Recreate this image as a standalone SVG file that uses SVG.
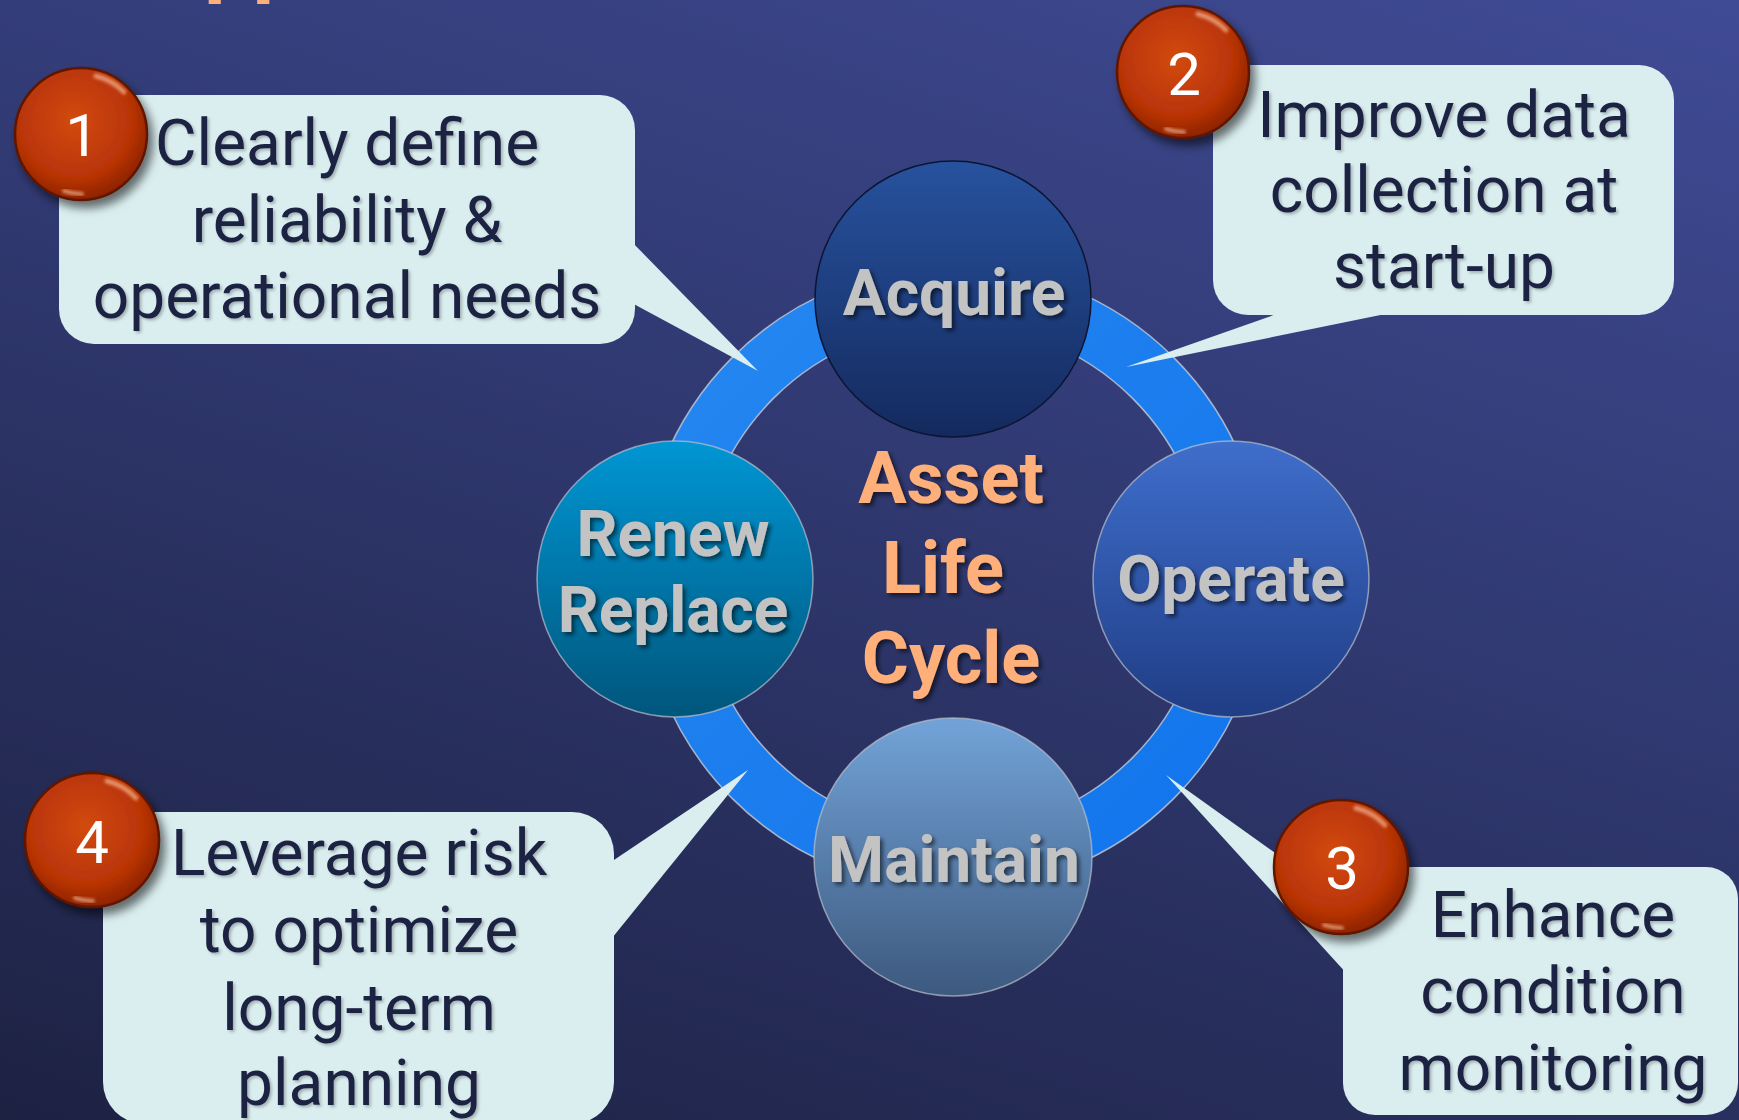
<svg xmlns="http://www.w3.org/2000/svg" width="1739" height="1120" viewBox="0 0 1739 1120">
  <defs>
    <linearGradient id="bg" gradientUnits="userSpaceOnUse" x1="1739" y1="0" x2="1242" y2="1523">
      <stop offset="0" stop-color="#3f4b95"/>
      <stop offset="1" stop-color="#1d2243"/>
    </linearGradient>
    <linearGradient id="ringGrad" gradientUnits="userSpaceOnUse" x1="670" y1="300" x2="1240" y2="860">
      <stop offset="0" stop-color="#2587f0"/>
      <stop offset="1" stop-color="#1274ec"/>
    </linearGradient>
    <linearGradient id="gAcquire" x1="0" y1="0" x2="0" y2="1">
      <stop offset="0" stop-color="#27529e"/>
      <stop offset="1" stop-color="#142a5e"/>
    </linearGradient>
    <linearGradient id="gOperate" x1="0" y1="0" x2="0" y2="1">
      <stop offset="0" stop-color="#3f6ecb"/>
      <stop offset="1" stop-color="#203d85"/>
    </linearGradient>
    <linearGradient id="gMaintain" x1="0" y1="0" x2="0" y2="1">
      <stop offset="0" stop-color="#72a3d8"/>
      <stop offset="1" stop-color="#3d597e"/>
    </linearGradient>
    <linearGradient id="gRenew" x1="0" y1="0" x2="0" y2="1">
      <stop offset="0" stop-color="#0096d4"/>
      <stop offset="1" stop-color="#00567c"/>
    </linearGradient>
    <radialGradient id="gBadge" cx="0.45" cy="0.4" r="0.62">
      <stop offset="0" stop-color="#d24a10"/>
      <stop offset="0.7" stop-color="#b93406"/>
      <stop offset="1" stop-color="#8a2102"/>
    </radialGradient>
    <filter id="fCallText" x="-10%" y="-30%" width="120%" height="160%">
      <feDropShadow dx="2" dy="2" stdDeviation="1.5" flood-color="#000" flood-opacity="0.25"/>
    </filter>
    <filter id="fNodeText" x="-10%" y="-30%" width="120%" height="160%">
      <feDropShadow dx="3" dy="3" stdDeviation="2" flood-color="#000" flood-opacity="0.55"/>
    </filter>
    <filter id="fBadge" x="-30%" y="-30%" width="160%" height="160%">
      <feDropShadow dx="5" dy="7" stdDeviation="5" flood-color="#000" flood-opacity="0.55"/>
    </filter>
    <filter id="fSoft" x="-50%" y="-50%" width="200%" height="200%">
      <feGaussianBlur stdDeviation="1.5"/>
    </filter>
    <style>
      .call { fill: #daeef0; }
      .ctext { font-family: Roboto, "Liberation Sans", sans-serif; font-size: 64px; fill: #1c2142; text-anchor: middle; filter: url(#fCallText); }
      .ntext { font-family: Roboto, "Liberation Sans", sans-serif; font-size: 64px; font-weight: bold; fill: #c3c3c3; text-anchor: middle; filter: url(#fNodeText); }
      .otext { font-family: Roboto, "Liberation Sans", sans-serif; font-size: 72px; font-weight: bold; fill: #ffb07a; text-anchor: middle; filter: url(#fNodeText); }
      .btext { font-family: Roboto, "Liberation Sans", sans-serif; font-size: 60px; fill: #ffffff; text-anchor: middle; }
      .badge { fill: url(#gBadge); stroke: #5e1606; stroke-width: 2.5; }
      .hl { fill: none; stroke: #ffc9a8; stroke-opacity: 0.6; stroke-linecap: round; filter: url(#fSoft); }
      .node { stroke: #b9c0cc; stroke-opacity: 0.7; stroke-width: 1.5; }
    </style>
  </defs>

  <rect x="0" y="0" width="1739" height="1120" fill="url(#bg)"/>

  <text x="204" y="-13" font-family="Roboto, 'Liberation Sans', sans-serif" font-size="86" font-weight="bold" fill="#ffb07a">pp</text>

  <g id="connectors">
    <circle cx="953" cy="578" r="283" fill="none" stroke="url(#ringGrad)" stroke-width="58"/>
    <circle cx="953" cy="578" r="312" fill="none" stroke="#c4ccd8" stroke-width="1.5" stroke-opacity="0.8"/>
    <circle cx="953" cy="578" r="254" fill="none" stroke="#c4ccd8" stroke-width="1.5" stroke-opacity="0.8"/>
  </g>

  <g id="node-acquire">
    <circle cx="953" cy="299" r="138" fill="url(#gAcquire)" stroke="#0b1533" stroke-width="1.5"/>
    <text class="ntext" x="954" y="315">Acquire</text>
  </g>
  <g id="node-operate">
    <circle class="node" cx="1231" cy="579" r="138" fill="url(#gOperate)"/>
    <text class="ntext" x="1231" y="601">Operate</text>
  </g>
  <g id="node-maintain">
    <circle class="node" cx="953" cy="857" r="139" fill="url(#gMaintain)"/>
    <text class="ntext" x="954" y="882">Maintain</text>
  </g>
  <g id="node-renew">
    <circle class="node" cx="675" cy="579" r="138" fill="url(#gRenew)"/>
    <text class="ntext" x="673" y="556">Renew</text>
    <text class="ntext" x="673" y="632">Replace</text>
  </g>
  <g id="node-center">
    <text class="otext" x="951" y="503">Asset</text>
    <text class="otext" x="943" y="593">Life</text>
    <text class="otext" x="951" y="683">Cycle</text>
  </g>

  <g id="callout-1">
    <rect class="call" x="59" y="95" width="576" height="249" rx="35"/>
    <polygon class="call" points="630,240 758,371 630,302"/>
    <text class="ctext" x="347" y="165">Clearly define</text>
    <text class="ctext" x="347" y="242">reliability &amp;</text>
    <text class="ctext" x="347" y="318">operational needs</text>
    <g filter="url(#fBadge)">
      <circle class="badge" cx="81" cy="134" r="66"/>
    </g>
    <path class="hl" d="M 96 76 A 58 58 0 0 1 124 92" stroke-width="5"/>
    <path class="hl" d="M 64 191 A 58 58 0 0 0 82 194" stroke-width="4"/>
    <text class="btext" x="82" y="156">1</text>
  </g>

  <g id="callout-2">
    <rect class="call" x="1213" y="65" width="461" height="250" rx="35"/>
    <polygon class="call" points="1288,310 1126,367 1405,310"/>
    <text class="ctext" x="1444" y="137">Improve data</text>
    <text class="ctext" x="1444" y="212">collection at</text>
    <text class="ctext" x="1444" y="288">start-up</text>
    <g filter="url(#fBadge)">
      <circle class="badge" cx="1183" cy="72" r="66"/>
    </g>
    <path class="hl" d="M 1198 14 A 58 58 0 0 1 1226 30" stroke-width="5"/>
    <path class="hl" d="M 1166 129 A 58 58 0 0 0 1184 132" stroke-width="4"/>
    <text class="btext" x="1184" y="95">2</text>
  </g>

  <g id="callout-3">
    <rect class="call" x="1343" y="867" width="395" height="248" rx="32"/>
    <polygon class="call" points="1348,905 1166,775 1348,975"/>
    <text class="ctext" x="1553" y="937">Enhance</text>
    <text class="ctext" x="1553" y="1013">condition</text>
    <text class="ctext" x="1553" y="1090">monitoring</text>
    <g filter="url(#fBadge)">
      <circle class="badge" cx="1341" cy="867" r="67"/>
    </g>
    <path class="hl" d="M 1356 808 A 59 59 0 0 1 1385 825" stroke-width="5"/>
    <path class="hl" d="M 1324 925 A 59 59 0 0 0 1342 928" stroke-width="4"/>
    <text class="btext" x="1342" y="889">3</text>
  </g>

  <g id="callout-4">
    <rect class="call" x="103" y="812" width="511" height="312" rx="42"/>
    <polygon class="call" points="608,864 748,770 608,943"/>
    <text class="ctext" x="359" y="875">Leverage risk</text>
    <text class="ctext" x="359" y="952">to optimize</text>
    <text class="ctext" x="359" y="1030">long-term</text>
    <text class="ctext" x="359" y="1105">planning</text>
    <g filter="url(#fBadge)">
      <circle class="badge" cx="92" cy="840" r="67"/>
    </g>
    <path class="hl" d="M 107 781 A 59 59 0 0 1 136 798" stroke-width="5"/>
    <path class="hl" d="M 75 898 A 59 59 0 0 0 93 901" stroke-width="4"/>
    <text class="btext" x="92" y="863">4</text>
  </g>
</svg>
